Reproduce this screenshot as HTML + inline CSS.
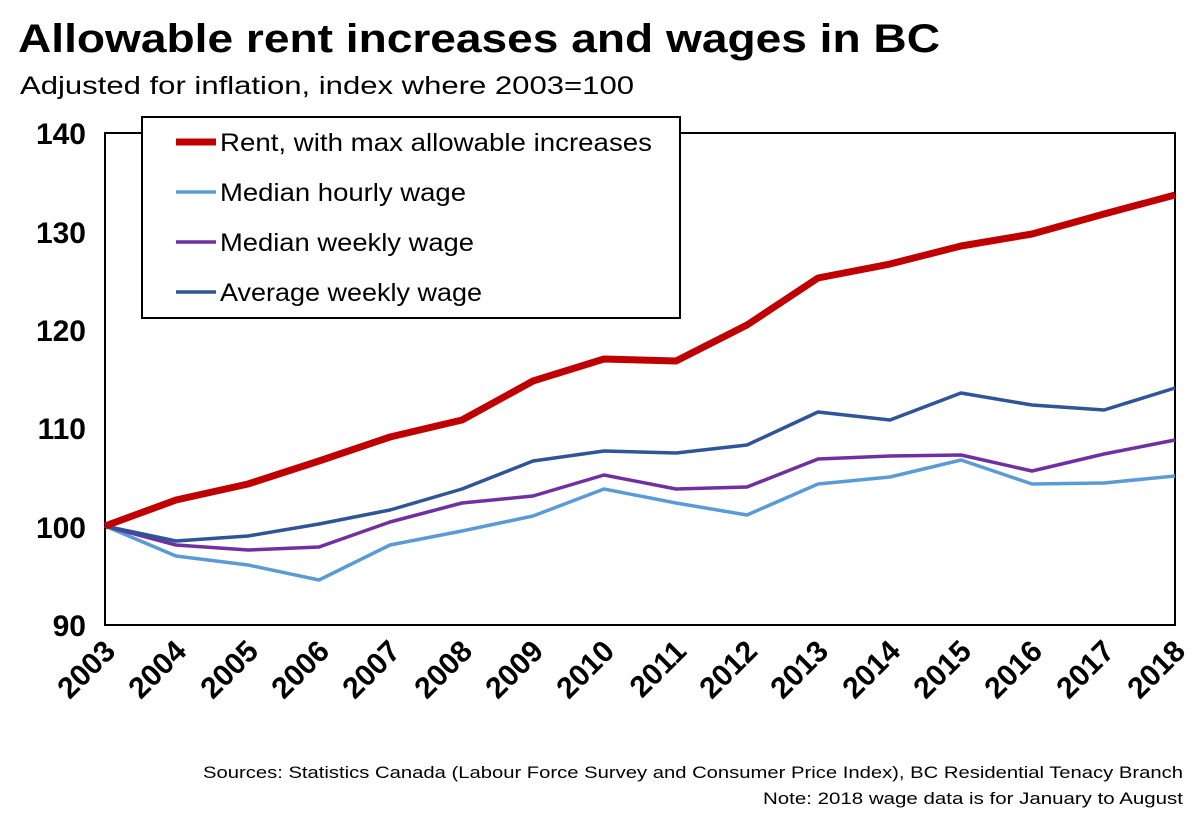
<!DOCTYPE html>
<html><head><meta charset="utf-8"><style>
body{margin:0;background:#fff;}
svg{display:block;font-family:"Liberation Sans",sans-serif;}
</style></head><body>
<svg width="1200" height="832" viewBox="0 0 1200 832" xmlns="http://www.w3.org/2000/svg">
<text x="18" y="52" font-size="40" font-weight="bold" fill="#000" textLength="922" lengthAdjust="spacingAndGlyphs">Allowable rent increases and wages in BC</text>
<text x="20" y="94" font-size="25" fill="#000" textLength="614" lengthAdjust="spacingAndGlyphs">Adjusted for inflation, index where 2003=100</text>
<rect x="105" y="133" width="1070" height="492" fill="none" stroke="#000" stroke-width="2"/>
<g font-size="30" font-weight="bold" text-anchor="end" fill="#000">
<text x="86" y="144">140</text><text x="86" y="243">130</text><text x="86" y="341">120</text>
<text x="86" y="439">110</text><text x="86" y="538">100</text><text x="86" y="636">90</text>
</g>
<g font-size="30" font-weight="bold" fill="#000" text-anchor="end">
<text transform="translate(117,653) rotate(-45)">2003</text>
<text transform="translate(188,653) rotate(-45)">2004</text>
<text transform="translate(260,653) rotate(-45)">2005</text>
<text transform="translate(331,653) rotate(-45)">2006</text>
<text transform="translate(402,653) rotate(-45)">2007</text>
<text transform="translate(474,653) rotate(-45)">2008</text>
<text transform="translate(545,653) rotate(-45)">2009</text>
<text transform="translate(616,653) rotate(-45)">2010</text>
<text transform="translate(688,653) rotate(-45)">2011</text>
<text transform="translate(759,653) rotate(-45)">2012</text>
<text transform="translate(830,653) rotate(-45)">2013</text>
<text transform="translate(902,653) rotate(-45)">2014</text>
<text transform="translate(973,653) rotate(-45)">2015</text>
<text transform="translate(1044,653) rotate(-45)">2016</text>
<text transform="translate(1116,653) rotate(-45)">2017</text>
<text transform="translate(1187,653) rotate(-45)">2018</text>
</g>
<g fill="none" stroke-linejoin="round">
<polyline stroke="#5b9bd5" stroke-width="3.5" points="105,526 176,556 248,565 319,580 390,545 462,531 533,516 604,489 676,503 747,515 818,484 890,477 961,460 1032,484 1104,483 1175,476"/>
<polyline stroke="#7030a0" stroke-width="3.5" points="105,526 176,545 248,550 319,547 390,522 462,503 533,496 604,475 676,489 747,487 818,459 890,456 961,455 1032,471 1104,454 1175,440"/>
<polyline stroke="#2f5597" stroke-width="3.5" points="105,526 176,541 248,536 319,524 390,510 462,489 533,461 604,451 676,453 747,445 818,412 890,420 961,393 1032,405 1104,410 1175,388"/>
<polyline stroke="#c00000" stroke-width="7" points="105,526 176,500 248,484 319,461 390,437 462,420 533,381 604,359 676,361 747,325 818,278 890,264 961,246 1032,234 1104,214 1175,195"/>
</g>
<rect x="142" y="117" width="538" height="201" fill="#fff" stroke="#000" stroke-width="2"/>
<line x1="176" y1="142" x2="216" y2="142" stroke="#c00000" stroke-width="7"/>
<line x1="176" y1="192" x2="216" y2="192" stroke="#5b9bd5" stroke-width="3.5"/>
<line x1="176" y1="242" x2="216" y2="242" stroke="#7030a0" stroke-width="3.5"/>
<line x1="176" y1="292" x2="216" y2="292" stroke="#2f5597" stroke-width="3.5"/>
<g font-size="25" fill="#000">
<text x="220" y="151" textLength="432" lengthAdjust="spacingAndGlyphs">Rent, with max allowable increases</text>
<text x="220" y="201" textLength="246" lengthAdjust="spacingAndGlyphs">Median hourly wage</text>
<text x="220" y="251" textLength="254" lengthAdjust="spacingAndGlyphs">Median weekly wage</text>
<text x="220" y="301" textLength="262" lengthAdjust="spacingAndGlyphs">Average weekly wage</text>
</g>
<g font-size="17" fill="#000" text-anchor="end">
<text x="1183" y="778" textLength="980" lengthAdjust="spacingAndGlyphs">Sources: Statistics Canada (Labour Force Survey and Consumer Price Index), BC Residential Tenacy Branch</text>
<text x="1183" y="804" textLength="420" lengthAdjust="spacingAndGlyphs">Note: 2018 wage data is for January to August</text>
</g>
</svg>
</body></html>
